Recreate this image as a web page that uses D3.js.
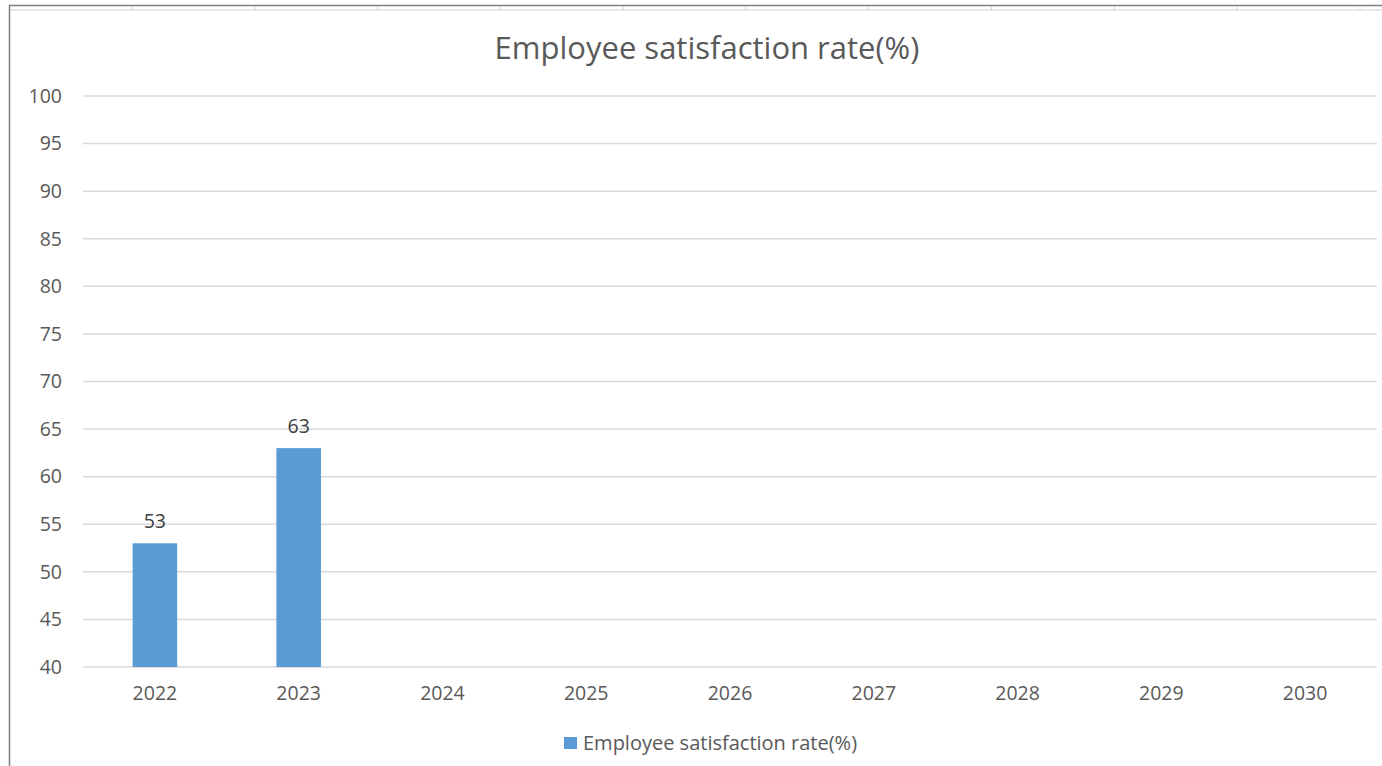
<!DOCTYPE html>
<html>
<head>
<meta charset="utf-8">
<script src="https://cdn.jsdelivr.net/npm/d3@7"></script>
<style>
  body { margin: 0; background: #fff; }
  svg { display: block; font-family: "Open Sans", "DejaVu Sans", sans-serif; }
</style>
</head>
<body>
<div id="chart"></div>
<script>
const years = ["2022", "2023", "2024", "2025", "2026", "2027", "2028", "2029", "2030"];
const satisfaction = [53, 63, null, null, null, null, null, null, null];
const yTicks = [40, 45, 50, 55, 60, 65, 70, 75, 80, 85, 90, 95, 100];
const chartTitle = "Employee satisfaction rate(%)";
const seriesName = "Employee satisfaction rate(%)";

const data = years.map((y, i) => ({ year: y, value: satisfaction[i] }));

const width = 1382, height = 766;
const margin = { top: 96, right: 5, bottom: 99, left: 83 };
const innerW = width - margin.left - margin.right;
const innerH = height - margin.top - margin.bottom;

const svg = d3.select("#chart").append("svg")
  .attr("width", width)
  .attr("height", height);

// spreadsheet frame behind the chart
svg.append("line").attr("x1", 9).attr("x2", width).attr("y1", 5.5).attr("y2", 5.5)
  .attr("stroke", "#7f7f7f").attr("stroke-width", 1.5);
svg.append("line").attr("x1", 9).attr("x2", width).attr("y1", 10).attr("y2", 10)
  .attr("stroke", "#e0e0e0").attr("stroke-width", 1.5);
d3.range(132, width, 122.8).forEach(x => {
  svg.append("line").attr("x1", x).attr("x2", x).attr("y1", 6).attr("y2", 10)
    .attr("stroke", "#d0d0d0");
});
svg.append("line").attr("x1", 9.5).attr("x2", 9.5).attr("y1", 5).attr("y2", height)
  .attr("stroke", "#7f7f7f").attr("stroke-width", 1.5);

const chart = svg.append("g")
  .attr("transform", `translate(${margin.left}, ${margin.top})`);

const x = d3.scaleBand().domain(years).range([0, innerW]).paddingInner(0.69).paddingOuter(0.345);
const y = d3.scaleLinear().domain([40, 100]).range([innerH, 0]);

// gridlines
chart.append("g")
  .selectAll("line")
  .data(yTicks)
  .enter().append("line")
  .attr("x1", 0).attr("x2", innerW)
  .attr("y1", d => y(d)).attr("y2", d => y(d))
  .attr("stroke", "#d9d9d9").attr("stroke-width", 1.5);

// y axis labels
const yAxis = chart.append("g")
  .call(d3.axisLeft(y).tickValues(yTicks).tickSize(0).tickPadding(21));
yAxis.select(".domain").remove();
yAxis.selectAll("text")
  .attr("font-size", 19.5).attr("fill", "#595959")
  .style("font-family", "\"Open Sans\", sans-serif");

// x axis labels
const xAxis = chart.append("g")
  .attr("transform", `translate(0, ${innerH})`)
  .call(d3.axisBottom(x).tickSize(0).tickPadding(19));
xAxis.select(".domain").remove();
xAxis.selectAll("text")
  .attr("font-size", 19.5).attr("fill", "#595959")
  .style("font-family", "\"Open Sans\", sans-serif");

const withValues = data.filter(d => d.value != null);

chart.selectAll(".bar")
  .data(withValues)
  .enter().append("rect")
  .attr("class", "bar")
  .attr("x", d => x(d.year))
  .attr("y", d => y(d.value))
  .attr("width", x.bandwidth())
  .attr("height", d => innerH - y(d.value))
  .attr("fill", "#5b9bd5");

chart.selectAll(".label")
  .data(withValues)
  .enter().append("text")
  .attr("class", "label")
  .attr("x", d => x(d.year) + x.bandwidth() / 2)
  .attr("y", d => y(d.value) - 15)
  .attr("text-anchor", "middle")
  .attr("font-size", 19.5)
  .attr("fill", "#404040")
  .text(d => d.value);

// title
svg.append("text")
  .attr("x", 707)
  .attr("y", 59)
  .attr("text-anchor", "middle")
  .attr("font-size", 31)
  .attr("fill", "#595959")
  .text(chartTitle);

// legend
const legend = svg.append("g").attr("transform", "translate(564, 743)");
legend.append("rect")
  .attr("x", 0).attr("y", -6)
  .attr("width", 13).attr("height", 12)
  .attr("fill", "#5b9bd5");
legend.append("text")
  .attr("x", 19).attr("y", 7)
  .attr("font-size", 20)
  .attr("fill", "#595959")
  .text(seriesName);
</script>
</body>
</html>
